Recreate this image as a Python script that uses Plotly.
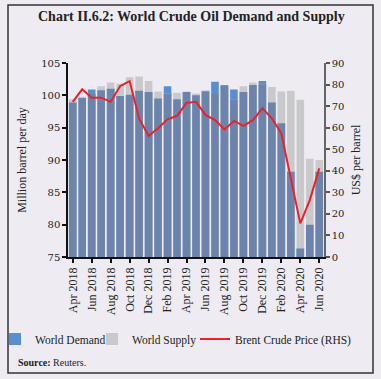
import plotly.graph_objects as go

months = ["Apr 2018", "May 2018", "Jun 2018", "Jul 2018", "Aug 2018", "Sep 2018",
          "Oct 2018", "Nov 2018", "Dec 2018", "Jan 2019", "Feb 2019", "Mar 2019",
          "Apr 2019", "May 2019", "Jun 2019", "Jul 2019", "Aug 2019", "Sep 2019",
          "Oct 2019", "Nov 2019", "Dec 2019", "Jan 2020", "Feb 2020", "Mar 2020",
          "Apr 2020", "May 2020", "Jun 2020"]
world_demand = [98.9, 99.6, 100.9, 100.8, 101.0, 99.9, 100.1, 100.7, 100.5, 99.5, 101.4, 99.4,
                100.5, 100.0, 100.7, 102.1, 101.6, 100.9, 100.5, 101.6, 102.2, 98.9, 95.7, 88.2,
                76.3, 80.0, 88.2]
world_supply = [99.4, 99.8, 100.2, 101.4, 102.0, 101.8, 102.8, 102.9, 102.2, 100.6, 100.3, 100.4,
                100.6, 100.3, 100.6, 100.2, 101.5, 99.3, 101.4, 102.0, 101.7, 101.3, 100.6, 100.7,
                99.3, 90.2, 90.0]
brent_price = [72.0, 77.8, 73.9, 73.9, 72.0, 79.3, 81.6, 64.3, 56.1, 59.7, 63.9, 65.5,
               71.5, 72.0, 65.9, 63.5, 59.2, 63.1, 60.8, 63.5, 69.0, 64.3, 57.4, 35.7,
               15.6, 26.4, 41.1]
tick_labels = months[::2]

overlap = [min(d, s) for d, s in zip(world_demand, world_supply)]

W, H = 381, 379
L, R, T, B = 68, 57, 63, 122
PW, PH = W - L - R, H - T - B
BG = "#eeecf2"
SERIF = "Liberation Serif"
bw = 0.8


def px(x):
    return (x - L) / PW


def py(y):
    return (H - B - y) / PH


fig = go.Figure()
fig.add_trace(go.Bar(x=months, y=world_demand, name="World Demand", marker_color="#5a8ed2",
                     width=bw, marker_line_width=0, legend="legend"))
fig.add_trace(go.Bar(x=months, y=world_supply, name="World Supply", marker_color="#c9c9cb",
                     width=bw, marker_line_width=0, legend="legend2"))
fig.add_trace(go.Bar(x=months, y=overlap, name="overlap", marker_color="#6c84ac",
                     width=bw, marker_line_width=0, showlegend=False))
fig.add_trace(go.Scatter(x=months, y=brent_price, name="Brent Crude Price (RHS)", mode="lines",
                         line=dict(color="#ec2029", width=2), yaxis="y2", legend="legend3"))


def leg(x0):
    return dict(orientation="h", xref="paper", yref="paper",
                x=px(x0), xanchor="left", y=py(339), yanchor="middle",
                bgcolor="rgba(0,0,0,0)", font=dict(family=SERIF, size=11.5, color="#222"),
                itemwidth=30)


fig.update_layout(
    width=W, height=H,
    margin=dict(l=L, r=R, t=T, b=B, autoexpand=False),
    paper_bgcolor=BG, plot_bgcolor=BG,
    barmode="overlay",
    font=dict(family=SERIF, size=11, color="#222222"),
    showlegend=True,
    legend=leg(-5), legend2=leg(92), legend3=leg(195),
    xaxis=dict(type="category", categoryorder="array", categoryarray=months,
               tickmode="array", tickvals=tick_labels, ticktext=tick_labels,
               tickangle=-90, ticks="outside", ticklen=4, tickwidth=1.5, tickcolor="#111",
               showline=True, linecolor="#111", linewidth=1.5, showgrid=False,
               range=[-0.5, 26.5], tickfont=dict(family=SERIF, size=12)),
    yaxis=dict(range=[75, 105], dtick=5, ticks="outside", ticklen=4, tickwidth=1.5,
               tickcolor="#111", showline=True, linecolor="#111", linewidth=1.5,
               showgrid=False, zeroline=False,
               tickfont=dict(family="DejaVu Serif", size=10),
               title=dict(text="Million barrel per day", font=dict(family=SERIF, size=12), standoff=12)),
    yaxis2=dict(range=[0, 90], dtick=10, overlaying="y", side="right", ticks="outside",
                ticklen=4, tickwidth=1.5, tickcolor="#555", showline=True, linecolor="#666",
                linewidth=1.5, showgrid=False, zeroline=False,
                tickfont=dict(family="DejaVu Serif", size=10),
                title=dict(text="US$ per barrel", font=dict(family=SERIF, size=12), standoff=8)),
)

fig.add_annotation(text="<b>Chart II.6.2: World Crude Oil Demand and Supply</b>",
                   xref="paper", yref="paper", x=px(191), y=py(17),
                   xanchor="center", yanchor="middle", showarrow=False,
                   font=dict(family=SERIF, size=14, color="#222"))
fig.add_annotation(text="<b>Source:</b> Reuters.",
                   xref="paper", yref="paper", x=px(16), y=py(363),
                   xanchor="left", yanchor="middle", showarrow=False,
                   font=dict(family=SERIF, size=10, color="#222"))
fig.add_shape(type="rect", xref="paper", yref="paper",
              x0=px(8), x1=px(373), y0=py(373), y1=py(5),
              line=dict(color="#333", width=1.5), fillcolor="rgba(0,0,0,0)", layer="below")

fig.write_html("out.html", config={"displayModeBar": False},
               post_script="document.body.style.margin='0';document.body.style.padding='0';")
